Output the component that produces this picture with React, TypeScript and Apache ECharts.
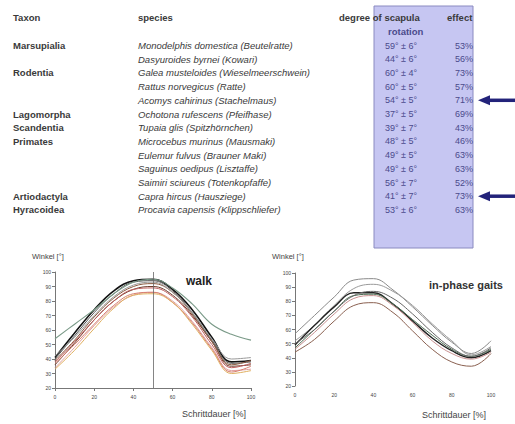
import React, { useEffect, useRef } from "react";
import * as echarts from "echarts";

const taxa = ["Marsupialia", "", "Rodentia", "", "", "Lagomorpha", "Scandentia", "Primates", "", "", "", "Artiodactyla", "Hyracoidea"];
const species = [
  "Monodelphis domestica (Beutelratte)",
  "Dasyuroides byrnei (Kowari)",
  "Galea musteloides (Wieselmeerschwein)",
  "Rattus norvegicus (Ratte)",
  "Acomys cahirinus (Stachelmaus)",
  "Ochotona rufescens (Pfeifhase)",
  "Tupaia glis (Spitzhörnchen)",
  "Microcebus murinus (Mausmaki)",
  "Eulemur fulvus (Brauner Maki)",
  "Saguinus oedipus (Lisztaffe)",
  "Saimiri sciureus (Totenkopfaffe)",
  "Capra hircus (Hausziege)",
  "Procavia capensis (Klippschliefer)",
];
const rotation = ["59° ± 6°", "44° ± 6°", "60° ± 4°", "60° ± 5°", "54° ± 5°", "37° ± 5°", "39° ± 7°", "48° ± 5°", "49° ± 5°", "49° ± 6°", "56° ± 7°", "41° ± 7°", "53° ± 6°"];
const effect = ["53%", "56%", "73%", "57%", "71%", "69%", "43%", "46%", "63%", "63%", "52%", "73%", "63%"];
const arrowRows = [4, 11];

const xPercent = [0, 10, 20, 30, 40, 50, 60, 70, 80, 90, 100];
const yTicks = [20, 100, 10];
const xTicks = [0, 100, 20];

const walkCurves = [
  [41, 58, 74, 87, 94, 95, 88, 74, 55, 38, 39],
  [40, 56, 72, 85, 93, 94, 87, 72, 53, 37, 38],
  [36, 51, 67, 80, 88, 90, 84, 70, 52, 35, 36],
  [38, 52, 67, 80, 88, 89, 83, 69, 50, 34, 37],
  [34, 48, 63, 76, 84, 86, 80, 66, 48, 32, 33],
  [37, 50, 64, 77, 85, 86, 79, 65, 47, 31, 35],
  [33, 46, 61, 75, 84, 85, 79, 64, 46, 30, 32],
  [39, 53, 69, 82, 90, 92, 86, 71, 52, 36, 39],
  [42, 55, 70, 83, 91, 93, 86, 72, 54, 40, 41],
  [54, 64, 74, 85, 93, 95, 89, 78, 64, 57, 53],
];
const walkColors = ["#111111", "#555555", "#6b3a2a", "#c06060", "#e0a0a0", "#d88070", "#e0b060", "#8a5a40", "#999999", "#7a9a88"];
const walkWidths = [1.6, 1, 1, 1, 1, 1, 1, 1, 1, 1.1];

const gaitCurves = [
  [57, 70, 83, 95, 96, 88, 76, 63, 51, 43, 52],
  [52, 63, 77, 89, 92, 87, 77, 64, 52, 42, 48],
  [49, 63, 76, 86, 86, 78, 66, 54, 45, 40, 45],
  [47, 60, 73, 84, 85, 78, 67, 56, 46, 41, 46],
  [46, 58, 71, 82, 84, 77, 65, 52, 43, 39, 44],
  [44, 53, 66, 77, 79, 72, 59, 46, 37, 34, 43],
  [50, 60, 73, 84, 87, 82, 71, 58, 47, 41, 47],
];
const gaitColors = ["#8a8a8a", "#9a9a9a", "#222222", "#4a6a50", "#c89090", "#8a6050", "#666666"];
const gaitWidths = [1, 1, 1.4, 1, 1, 1, 1];

const walkMarker = 50;

const FONT = "Liberation Sans, Arial, sans-serif";

export default function App() {
  const ref = useRef<HTMLDivElement>(null);
  useEffect(() => {
    if (!ref.current) return;
    const chart = echarts.init(ref.current, null, { renderer: "svg" });

    const rowY = (i: number) => 45.5 + i * 13.7;
    const textColor = "#3a3a3a";
    const boxText = "#4a4a8c";
    const graphic: any[] = [
      { type: "rect", shape: { x: 374, y: 6, width: 99, height: 242 }, style: { fill: "#c6c6f2", stroke: "#8a8ac0", lineWidth: 1 }, z: 0 },
      { type: "text", x: 13, y: 17, style: { text: "Taxon", font: `bold 9.5px ${FONT}`, fill: textColor, verticalAlign: "middle" }, z: 5 },
      { type: "text", x: 138, y: 17, style: { text: "species", font: `bold 9.5px ${FONT}`, fill: textColor, verticalAlign: "middle" }, z: 5 },
      { type: "text", x: 339, y: 17, style: { text: "degree of scapula", font: `bold 9.5px ${FONT}`, fill: textColor, verticalAlign: "middle" }, z: 5 },
      { type: "text", x: 388, y: 31, style: { text: "rotation", font: `bold 9.5px ${FONT}`, fill: boxText, verticalAlign: "middle" }, z: 5 },
      { type: "text", x: 447, y: 17, style: { text: "effect", font: `bold 9.5px ${FONT}`, fill: textColor, verticalAlign: "middle" }, z: 5 },
    ];
    taxa.forEach((t, i) => {
      if (t) graphic.push({ type: "text", x: 13, y: rowY(i), style: { text: t, font: `bold 9.5px ${FONT}`, fill: textColor, verticalAlign: "middle" }, z: 5 });
    });
    species.forEach((s, i) => {
      graphic.push({ type: "text", x: 138, y: rowY(i), style: { text: s, font: `italic 9.5px ${FONT}`, fill: textColor, verticalAlign: "middle" }, z: 5 });
    });
    rotation.forEach((r, i) => {
      graphic.push({ type: "text", x: 385, y: rowY(i), style: { text: r, font: `9px ${FONT}`, fill: boxText, verticalAlign: "middle" }, z: 5 });
    });
    effect.forEach((e, i) => {
      graphic.push({ type: "text", x: 473, y: rowY(i), style: { text: e, font: `9px ${FONT}`, fill: boxText, verticalAlign: "middle", align: "right" }, z: 5 });
    });
    arrowRows.forEach((r) => {
      const y = rowY(r);
      graphic.push({ type: "line", shape: { x1: 486, y1: y, x2: 515, y2: y }, style: { stroke: "#23237a", lineWidth: 3.5 }, z: 5 });
      graphic.push({ type: "polygon", shape: { points: [[478, y], [490, y - 5], [490, y + 5]] }, style: { fill: "#23237a" }, z: 5 });
    });
    // chart labels
    graphic.push(
      { type: "text", x: 32, y: 256, style: { text: "Winkel [°]", font: `7.5px ${FONT}`, fill: "#444", verticalAlign: "middle" } },
      { type: "text", x: 272, y: 256, style: { text: "Winkel [°]", font: `7.5px ${FONT}`, fill: "#444", verticalAlign: "middle" } },
      { type: "text", x: 186, y: 281, style: { text: "walk", font: `bold 12px ${FONT}`, fill: "#222", verticalAlign: "middle" } },
      { type: "text", x: 429, y: 285, style: { text: "in-phase gaits", font: `bold 11px ${FONT}`, fill: "#333", verticalAlign: "middle" } },
      { type: "text", x: 182, y: 414, style: { text: "Schrittdauer [%]", font: `9px ${FONT}`, fill: "#444", verticalAlign: "middle" } },
      { type: "text", x: 422, y: 415, style: { text: "Schrittdauer [%]", font: `9px ${FONT}`, fill: "#444", verticalAlign: "middle" } }
    );

    const yAxisBase = (showLine: boolean) => ({
      type: "value",
      min: yTicks[0],
      max: yTicks[1],
      interval: yTicks[2],
      axisLine: { show: showLine, lineStyle: { color: "#777", width: 1 } },
      axisTick: { show: true, length: 3, lineStyle: { color: "#777" } },
      axisLabel: { fontSize: 5, color: "#444", margin: 4, fontFamily: FONT },
      splitLine: { show: false },
    });
    const xAxisBase = (showLine: boolean) => ({
      type: "value",
      min: xTicks[0],
      max: xTicks[1],
      interval: xTicks[2],
      axisLine: { show: showLine, onZero: false, lineStyle: { color: "#777", width: 1 } },
      axisTick: { show: showLine, length: 3, lineStyle: { color: "#777" } },
      axisLabel: { fontSize: 5, color: "#444", margin: 6, fontFamily: FONT },
      splitLine: { show: false },
    });

    const series: any[] = [];
    walkCurves.forEach((c, k) => {
      series.push({
        type: "line",
        xAxisIndex: 0,
        yAxisIndex: 0,
        smooth: 0.4,
        showSymbol: false,
        data: c.map((v, i) => [xPercent[i], v]),
        lineStyle: { color: walkColors[k], width: walkWidths[k] },
        itemStyle: { color: walkColors[k] },
        markLine: k === 0 ? {
          silent: true,
          symbol: ["none", "none"],
          label: { show: false },
          lineStyle: { color: "#666", width: 0.8, type: "solid" },
          data: [{ xAxis: walkMarker }],
        } : undefined,
      });
    });
    gaitCurves.forEach((c, k) => {
      series.push({
        type: "line",
        xAxisIndex: 1,
        yAxisIndex: 1,
        smooth: 0.4,
        showSymbol: false,
        data: c.map((v, i) => [xPercent[i], v]),
        lineStyle: { color: gaitColors[k], width: gaitWidths[k] },
        itemStyle: { color: gaitColors[k] },
      });
    });

    chart.setOption({
      animation: false,
      backgroundColor: "#ffffff",
      grid: [
        { left: 55, top: 272, width: 196, height: 116 },
        { left: 295, top: 273, width: 196, height: 113 },
      ],
      xAxis: [{ ...xAxisBase(true), gridIndex: 0 }, { ...xAxisBase(false), gridIndex: 1 }],
      yAxis: [{ ...yAxisBase(true), gridIndex: 0 }, { ...yAxisBase(true), gridIndex: 1 }],
      series,
      graphic,
    });
    return () => chart.dispose();
  }, []);
  return <div ref={ref} style={{ position: "fixed", left: 0, top: 0, width: 515, height: 424 }} />;
}
